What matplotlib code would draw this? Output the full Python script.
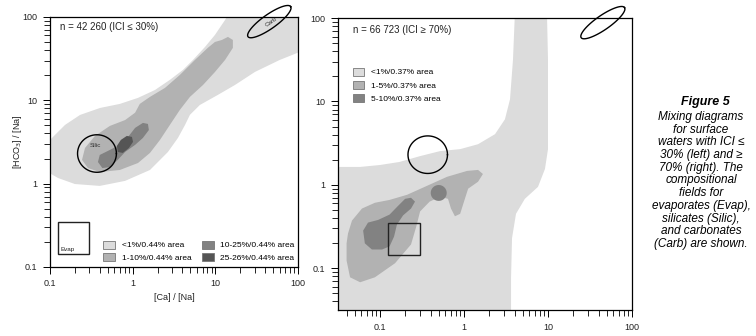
import numpy as np
import matplotlib
matplotlib.use("Agg")
import matplotlib.pyplot as plt
from matplotlib.patches import Patch, Rectangle
from matplotlib.ticker import LogLocator, FixedFormatter, FixedLocator, NullFormatter

plt.rcParams['font.family'] = ['Liberation Sans', 'DejaVu Sans']

# ---- density fields, left panel (ICI <= 30 %), vertices
left_l1_x = [0.085, 0.115, 0.152, 0.231, 0.403, 0.70, 1.16, 1.86, 2.82, 4.06, 5.36, 7.5, 9.9, 13.1, 15.9,
             121, 121, 60, 30.1, 17.3, 10.7, 6.5, 4.93, 4.3, 3.53, 2.67, 1.62, 0.81, 0.40, 0.20, 0.125, 0.085]
left_l1_y = [2.84, 3.85, 5.07, 6.68, 8.1, 9.06, 10.7, 13.3, 17.6, 23.2, 30.5, 43.7, 61, 92, 129,
             129, 40.3, 30.5, 21.9, 15.3, 11.6, 8.8, 6.7, 5.07, 3.54, 2.40, 1.46, 1.08, 0.94, 0.99, 1.17, 1.46]

left_l2_x = [12.0, 14.2, 16.3, 16.3, 13.1, 9.9, 7.1, 4.93, 3.73, 2.82, 2.14, 1.62, 1.16, 0.70, 0.40, 0.288,
             0.244, 0.265, 0.35, 0.53, 0.81, 1.07, 1.22, 1.62, 2.46, 3.73, 5.66, 8.1, 9.9]
left_l2_y = [53, 57.7, 53, 42.6, 30.5, 21.9, 15.3, 11.0, 7.7, 5.07, 3.35, 2.34, 1.77, 1.46, 1.38, 1.54,
             1.93, 2.68, 3.74, 4.93, 5.8, 7.1, 9.06, 11.0, 14.1, 20.2, 30.5, 42.6, 50.2]

left_l3_x = [0.38, 0.40, 0.53, 0.70, 0.88, 1.07, 1.33, 1.53, 1.57, 1.33, 1.07, 0.81, 0.66, 0.53, 0.43]
left_l3_y = [1.82, 2.21, 2.54, 2.92, 3.64, 4.67, 5.36, 5.21, 4.4, 3.54, 2.92, 2.40, 1.93, 1.58, 1.54]

left_l4_x = [0.66, 0.645, 0.72, 0.85, 0.98, 1.01, 0.90, 0.76]
left_l4_y = [2.40, 2.84, 3.35, 3.74, 3.64, 3.17, 2.68, 2.34]

# ---- density fields, right panel (ICI >= 70 %)
right_l1_x = [0.025, 0.058, 0.1, 0.17, 0.30, 0.52, 0.90, 1.47, 2.34, 3.07, 3.53, 3.83, 4.05, 9.7,
              10, 10, 9.2, 7.6, 5.3, 4.16, 3.73, 3.63, 3.63, 0.025]
right_l1_y = [1.64, 1.64, 1.73, 1.88, 2.21, 2.54, 2.68, 3.07, 4.05, 6.1, 10.6, 31.6, 124, 124,
              31.6, 2.68, 1.55, 0.946, 0.68, 0.45, 0.23, 0.076, 0.029, 0.029]

right_l2_x = [0.0416, 0.0464, 0.061, 0.087, 0.13, 0.21, 0.36, 0.63, 1.09, 1.47, 1.68, 1.47, 1.12, 1.0, 0.90,
              0.78, 0.70, 0.645, 0.52, 0.39, 0.30, 0.27, 0.234, 0.151, 0.087, 0.058, 0.044, 0.040, 0.040]
right_l2_y = [0.261, 0.373, 0.52, 0.61, 0.66, 0.76, 0.97, 1.25, 1.47, 1.51, 1.35, 1.09, 0.90, 0.63, 0.45,
              0.42, 0.52, 0.68, 0.72, 0.63, 0.48, 0.316, 0.193, 0.115, 0.078, 0.068, 0.078, 0.124, 0.199]

right_l3_x = [0.063, 0.066, 0.080, 0.106, 0.13, 0.147, 0.159, 0.188, 0.234, 0.261, 0.234, 0.199, 0.164,
              0.13, 0.095, 0.072]
right_l3_y = [0.283, 0.199, 0.168, 0.168, 0.183, 0.24, 0.334, 0.43, 0.52, 0.63, 0.70, 0.68, 0.56,
              0.44, 0.38, 0.353]
right_spot = (0.50, 0.80, 0.095)   # centre x, centre y, radius in decades

# ---- compositional end-member fields
evap_x = (0.125, 0.30)
evap_y = (0.145, 0.35)
silic = (0.37, 2.3, 0.235, 0.225, 0)     # cx, cy, semi-axes (decades), angle
carb = (45, 88, 0.315, 0.085, 35)

left_labels = ['<1%/0.44% area', '1-10%/0.44% area', '10-25%/0.44% area', '25-26%/0.44% area']
right_labels = ['<1%/0.37% area', '1-5%/0.37% area', '5-10%/0.37% area']
greys = ['#dcdcdc', '#b2b2b2', '#828282', '#555555']

caption_title = 'Figure 5'
caption = ['Mixing diagrams', 'for surface', 'waters with ICI \u2264', '30% (left) and \u2265',
           '70% (right). The', 'compositional', 'fields for', 'evaporates (Evap),',
           'silicates (Silic),', 'and carbonates', '(Carb) are shown.']


def ellipse_xy(cx, cy, a, b, ang):
    t = np.linspace(0, 2 * np.pi, 120)
    th = np.radians(ang)
    lx = np.log10(cx) + a * np.cos(t) * np.cos(th) - b * np.sin(t) * np.sin(th)
    ly = np.log10(cy) + a * np.cos(t) * np.sin(th) + b * np.sin(t) * np.cos(th)
    return 10 ** lx, 10 ** ly


def style(ax, lo):
    ax.set_xscale('log')
    ax.set_yscale('log')
    ax.set_xlim(lo, 100)
    ax.set_ylim(lo, 100)
    for a in (ax.xaxis, ax.yaxis):
        a.set_major_locator(FixedLocator([0.1, 1, 10, 100]))
        a.set_major_formatter(FixedFormatter(['0.1', '1', '10', '100']))
        a.set_minor_locator(LogLocator(base=10, subs=np.arange(2, 10)))
        a.set_minor_formatter(NullFormatter())
    ax.tick_params(which='major', direction='out', length=5, width=0.7, labelsize=6.5, pad=4,
                   labelcolor='#222222')
    ax.tick_params(which='minor', direction='out', length=4, width=0.6)
    for s in ax.spines.values():
        s.set_linewidth(0.9)


fig = plt.figure(figsize=(7.56, 3.36), dpi=100)
ax1 = fig.add_axes([50 / 756, 1 - 267 / 336, 248 / 756, 250 / 336])
ax2 = fig.add_axes([338 / 756, 1 - 310 / 336, 294 / 756, 292 / 336])

# left panel
ax1.fill(left_l1_x, left_l1_y, color=greys[0], lw=0, zorder=1)
ax1.fill(left_l2_x, left_l2_y, color=greys[1], lw=0, zorder=2)
ax1.fill(left_l3_x, left_l3_y, color=greys[2], lw=0, zorder=3)
ax1.fill(left_l4_x, left_l4_y, color=greys[3], lw=0, zorder=4)
style(ax1, 0.1)

# right panel
ax2.fill(right_l1_x, right_l1_y, color=greys[0], lw=0, zorder=1)
ax2.fill(right_l2_x, right_l2_y, color=greys[1], lw=0, zorder=2)
ax2.fill(right_l3_x, right_l3_y, color=greys[2], lw=0, zorder=3)
sx, sy = ellipse_xy(right_spot[0], right_spot[1], right_spot[2], right_spot[2], 0)
ax2.fill(sx, sy, color=greys[2], lw=0, zorder=3)
style(ax2, 10 ** -1.5)

for ax in (ax1, ax2):
    ex, ey = ellipse_xy(*silic)
    ax.plot(ex, ey, color='black', lw=1.0, zorder=6)
    cx_, cy_ = ellipse_xy(*carb)
    ax.plot(cx_, cy_, color='black', lw=1.0, zorder=6, clip_on=False)
    ax.add_patch(Rectangle((evap_x[0], evap_y[0]), evap_x[1] - evap_x[0], evap_y[1] - evap_y[0],
                           fill=False, ec='#222222', lw=1.0, zorder=6))

ax1.text(0.35, 2.84, 'Silic', fontsize=4.5, color='#333333', ha='center', va='center', zorder=7)
ax1.text(47, 87, 'Carb', fontsize=4.5, color='#333333', ha='center', va='center', rotation=35, zorder=7)
ax1.text(0.135, 0.16, 'Evap', fontsize=4.5, color='#222222', ha='left', va='center', zorder=7)

ax1.text(0.04, 0.96, 'n = 42 260 (ICI \u2264 30%)', transform=ax1.transAxes, fontsize=7,
         ha='left', va='center', color='#222222')
ax2.text(0.05, 0.96, 'n = 66 723 (ICI \u2265 70%)', transform=ax2.transAxes, fontsize=7,
         ha='left', va='center', color='#222222')

ax1.set_xlabel('[Ca] / [Na]', fontsize=6.5, labelpad=3, color='#222222')
ax1.set_ylabel('[HCO$_3$] / [Na]', fontsize=6.5, labelpad=-1, color='#222222')

h1 = [Patch(facecolor=c, edgecolor='#777777', lw=0.6) for c in greys]
ax1.legend(handles=h1, labels=left_labels, ncol=2, frameon=False, fontsize=6,
           loc='lower left', bbox_to_anchor=(0.215, 0.02), borderaxespad=0, borderpad=0,
           handlelength=1.4, handleheight=1.1, handletextpad=0.8, columnspacing=1.3,
           labelspacing=0.45)
h2 = [Patch(facecolor=c, edgecolor='#777777', lw=0.6) for c in greys[:3]]
ax2.legend(handles=h2, labels=right_labels, ncol=1, frameon=False, fontsize=6,
           loc='upper left', bbox_to_anchor=(0.05, 0.83), borderaxespad=0, borderpad=0,
           handlelength=1.4, handleheight=1.1, handletextpad=0.8, labelspacing=0.55)

fig.text(705 / 756, 1 - 102 / 336, caption_title, fontsize=9, fontweight='bold', style='italic',
         ha='center', va='center')
for i, line in enumerate(caption):
    fig.text(701 / 756, 1 - (117 + 12.7 * i) / 336, line, fontsize=8.5, style='italic',
             ha='center', va='center')

fig.savefig('out.png', dpi=100)
